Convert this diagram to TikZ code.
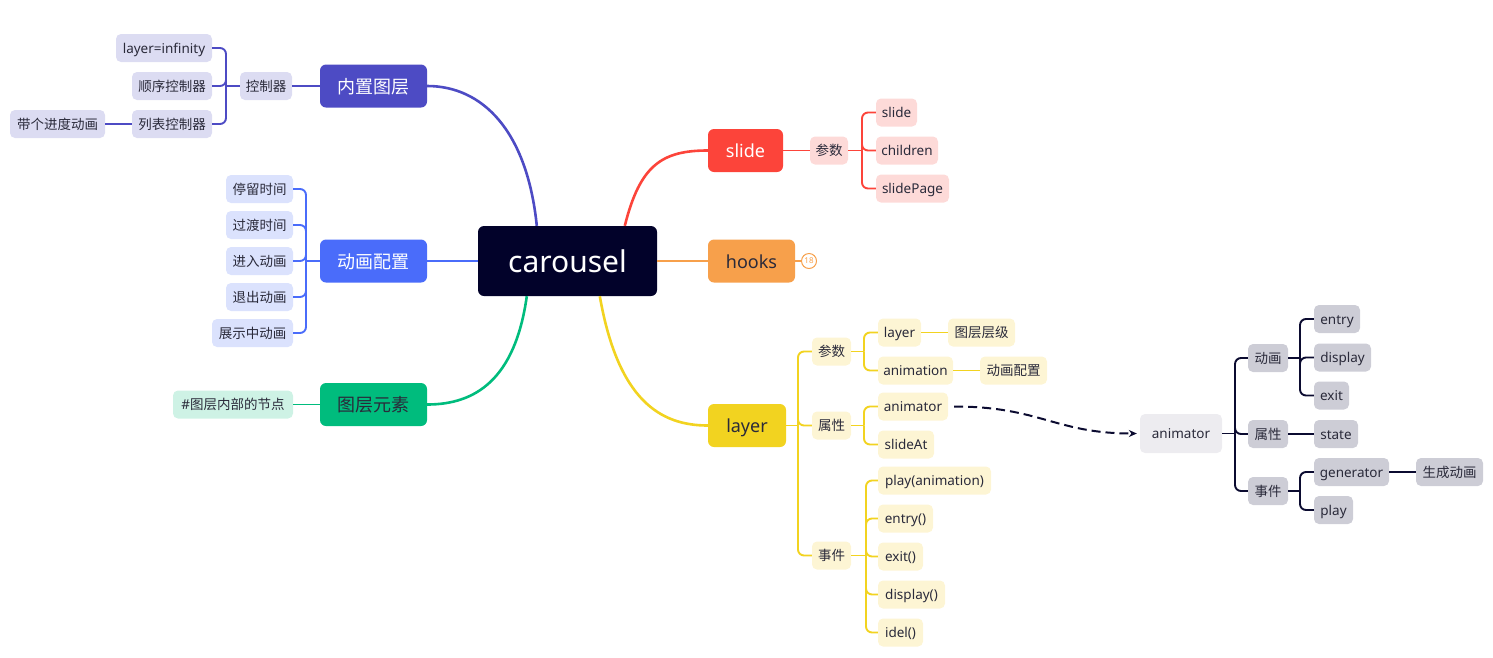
\documentclass[tikz,border=0pt]{standalone}
\usepackage{fontspec}
\setmainfont{Noto Sans}
\newfontfamily\cjkfont{Noto Sans CJK SC}
\newcommand\zh[1]{{\cjkfont #1}}
\usetikzlibrary{arrows.meta,calc}
\definecolor{rootc}{HTML}{02022A}
\definecolor{txt}{HTML}{2A2A3A}
\definecolor{pc}{HTML}{4D4BC4}
\definecolor{pl}{HTML}{DCDCF2}
\definecolor{bc}{HTML}{4A6CFA}
\definecolor{bl}{HTML}{DBE2FD}
\definecolor{gc}{HTML}{00BC7D}
\definecolor{gl}{HTML}{CEF2E5}
\definecolor{rc}{HTML}{FC443A}
\definecolor{rl}{HTML}{FDDAD8}
\definecolor{oc}{HTML}{F7A04B}
\definecolor{yc}{HTML}{F2D320}
\definecolor{yl}{HTML}{FDF5D4}
\definecolor{ac}{HTML}{0B0B30}
\definecolor{al}{HTML}{CDCDD6}
\definecolor{al2}{HTML}{EDECF0}
\newcommand\rbranch[4]{\draw[#1] (#2.east) -- (#3|-#2.east); \draw[#1,rounded corners=6pt] (#3|-#2.east) |- (#4.west);}
\newcommand\lbranch[4]{\draw[#1] (#2.west) -- (#3|-#2.west); \draw[#1,rounded corners=6pt] (#3|-#2.west) |- (#4.east);}
\begin{document}
\begin{tikzpicture}[x=1pt,y=-1pt,
  box/.style={rounded corners=5pt, inner sep=0pt, minimum height=28pt, text height=11.5pt, text depth=1.5pt, font=\fontsize{13.5}{16}\selectfont, text=txt},
  main/.style={rounded corners=6pt, inner sep=0pt, minimum height=43pt, minimum width=107pt, text height=16pt, text depth=2pt, font=\fontsize{18}{22}\selectfont},
  rootbox/.style={rounded corners=6pt, inner sep=0pt, minimum height=70pt, minimum width=179pt, fill=rootc, text=white, font=\fontsize{30}{34}\selectfont},
  curve/.style={line width=2.6pt},
  lnk/.style={line width=1.9pt},
  plink/.style={lnk, draw=pc}, blink/.style={lnk, draw=bc}, glink/.style={lnk, draw=gc},
  rlink/.style={lnk, draw=rc}, olink/.style={lnk, draw=oc}, ylink/.style={lnk, draw=yc}, alink/.style={lnk, draw=ac},
  badge/.style={circle, draw=oc, fill=white, line width=1pt, minimum size=15pt, inner sep=0pt, text=oc, font=\fontsize{8}{9}\selectfont},
  dasharrow/.style={draw=ac, line width=2pt, dash pattern=on 9pt off 5pt, -{Stealth[length=8pt,width=7pt]}}
]
\useasboundingbox (0,0) rectangle (1493,657);

% root and main branches
\node[rootbox] (root) at (567.5,261) {carousel};
\node[main,fill=pc,text=white] (nz) at (373.5,86) {\zh{内置图层}};
\node[main,fill=bc,text=white] (dh) at (373.5,261) {\zh{动画配置}};
\node[main,fill=gc,text=txt] (tc) at (373.5,404.5) {\zh{图层元素}};
\node[main,fill=rc,text=white,minimum width=75pt] (sl) at (745.5,150.5) {slide};
\node[main,fill=oc,text=txt,minimum width=87pt] (hk) at (751.5,261) {hooks};
\node[main,fill=yc,text=txt,minimum width=78pt] (ly) at (747,425.5) {layer};

\draw[curve,draw=pc] ([xshift=59pt]root.north west) .. controls (527,130) and (482,86) .. (nz.east);
\draw[curve,draw=bc] (root.west) -- (dh.east);
\draw[curve,draw=gc] ([xshift=49pt]root.south west) .. controls (515,380) and (475,404.5) .. (tc.east);
\draw[curve,draw=rc] ([xshift=147pt]root.north west) .. controls (640,165) and (662,150.5) .. (sl.west);
\draw[curve,draw=oc] (root.east) -- (hk.west);
\draw[curve,draw=yc] ([xshift=122pt]root.south west) .. controls (618,400) and (660,425.5) .. (ly.west);

% purple branch
\node[box,fill=pl,minimum width=52pt] (kz) at (266,86) {\zh{控制器}};
\node[box,fill=pl,minimum width=96pt] (li) at (164,48) {layer=infinity};
\node[box,fill=pl,minimum width=80pt] (sx) at (172,86) {\zh{顺序控制器}};
\node[box,fill=pl,minimum width=80pt] (lb) at (172,124) {\zh{列表控制器}};
\node[box,fill=pl,minimum width=95pt] (dg) at (57.5,124) {\zh{带个进度动画}};
\coordinate (jA) at (226,0);
\draw[plink] (nz.west) -- (kz.east);
\lbranch{plink}{kz}{jA}{li}
\lbranch{plink}{kz}{jA}{sx}
\lbranch{plink}{kz}{jA}{lb}
\draw[plink] (lb.west) -- (dg.east);

% blue branch
\node[box,fill=bl,minimum width=67pt] (b1) at (259.5,189) {\zh{停留时间}};
\node[box,fill=bl,minimum width=67pt] (b2) at (259.5,225) {\zh{过渡时间}};
\node[box,fill=bl,minimum width=67pt] (b3) at (259.5,261) {\zh{进入动画}};
\node[box,fill=bl,minimum width=67pt] (b4) at (259.5,297) {\zh{退出动画}};
\node[box,fill=bl,minimum width=81pt] (b5) at (252.5,333) {\zh{展示中动画}};
\coordinate (jB) at (306,0);
\lbranch{blink}{dh}{jB}{b1}
\lbranch{blink}{dh}{jB}{b2}
\lbranch{blink}{dh}{jB}{b3}
\lbranch{blink}{dh}{jB}{b4}
\lbranch{blink}{dh}{jB}{b5}

% green branch
\node[box,fill=gl,minimum width=120pt] (g1) at (233,404.5) {\#\zh{图层内部的节点}};
\draw[glink] (tc.west) -- (g1.east);

% slide branch
\node[box,fill=rl,minimum width=38pt] (sp) at (829,150.5) {\zh{参数}};
\node[box,fill=rl,minimum width=41pt] (s1) at (896.5,112.5) {slide};
\node[box,fill=rl,minimum width=62pt] (s2) at (907,150.5) {children};
\node[box,fill=rl,minimum width=73pt] (s3) at (912.5,188.5) {slidePage};
\coordinate (jC) at (862,0);
\draw[rlink] (sl.east) -- (sp.west);
\rbranch{rlink}{sp}{jC}{s1}
\rbranch{rlink}{sp}{jC}{s2}
\rbranch{rlink}{sp}{jC}{s3}

% hooks badge
\node[badge] (b18) at (809,261) {18};
\draw[olink] (hk.east) -- (b18.west);

% layer branch
\node[box,fill=yl,minimum width=39pt] (lp) at (831.5,351.5) {\zh{参数}};
\node[box,fill=yl,minimum width=39pt] (la) at (831.5,425.5) {\zh{属性}};
\node[box,fill=yl,minimum width=39pt] (le) at (831.5,555.5) {\zh{事件}};
\coordinate (jD) at (798,0);
\rbranch{ylink}{ly}{jD}{lp}
\rbranch{ylink}{ly}{jD}{la}
\rbranch{ylink}{ly}{jD}{le}

\node[box,fill=yl,minimum width=43pt] (y1) at (899.5,332.5) {layer};
\node[box,fill=yl,minimum width=75pt] (y2) at (915.5,370.5) {animation};
\node[box,fill=yl,minimum width=67pt] (y1a) at (981.5,332.5) {\zh{图层层级}};
\node[box,fill=yl,minimum width=67pt] (y2a) at (1013.5,370.5) {\zh{动画配置}};
\coordinate (jE) at (864,0);
\rbranch{ylink}{lp}{jE}{y1}
\rbranch{ylink}{lp}{jE}{y2}
\draw[ylink] (y1.east) -- (y1a.west);
\draw[ylink] (y2.east) -- (y2a.west);

\node[box,fill=yl,minimum width=70pt] (y3) at (913,406.5) {animator};
\node[box,fill=yl,minimum width=56pt] (y4) at (906,444.5) {slideAt};
\rbranch{ylink}{la}{jE}{y3}
\rbranch{ylink}{la}{jE}{y4}

\node[box,fill=yl,minimum width=113pt] (e1) at (934.5,480.5) {play(animation)};
\node[box,fill=yl,minimum width=55pt] (e2) at (905.5,518.5) {entry()};
\node[box,fill=yl,minimum width=45pt] (e3) at (900.5,556.5) {exit()};
\node[box,fill=yl,minimum width=67pt] (e4) at (911.5,594.5) {display()};
\node[box,fill=yl,minimum width=45pt] (e5) at (900.5,632.5) {idel()};
\coordinate (jG) at (866,0);
\rbranch{ylink}{le}{jG}{e1}
\rbranch{ylink}{le}{jG}{e2}
\rbranch{ylink}{le}{jG}{e3}
\rbranch{ylink}{le}{jG}{e4}
\rbranch{ylink}{le}{jG}{e5}

% animator tree
\node[box,fill=al2,minimum width=82pt,minimum height=39pt] (an) at (1181,433.5) {animator};
\node[box,fill=al,minimum width=40pt] (ad) at (1268,358) {\zh{动画}};
\node[box,fill=al,minimum width=40pt] (aa) at (1268,434) {\zh{属性}};
\node[box,fill=al,minimum width=40pt] (ae) at (1268,491) {\zh{事件}};
\coordinate (jH) at (1235,0);
\rbranch{alink}{an}{jH}{ad}
\rbranch{alink}{an}{jH}{aa}
\rbranch{alink}{an}{jH}{ae}

\node[box,fill=al,minimum width=46pt] (d1) at (1337,319) {entry};
\node[box,fill=al,minimum width=57pt] (d2) at (1342.5,357.5) {display};
\node[box,fill=al,minimum width=35pt] (d3) at (1331.5,395.5) {exit};
\node[box,fill=al,minimum width=44pt] (st) at (1336,434) {state};
\node[box,fill=al,minimum width=75pt] (gn) at (1351.5,472) {generator};
\node[box,fill=al,minimum width=39pt] (pl) at (1333.5,510) {play};
\node[box,fill=al,minimum width=67pt] (sc) at (1449.5,472) {\zh{生成动画}};
\coordinate (jI) at (1300,0);
\rbranch{alink}{ad}{jI}{d1}
\rbranch{alink}{ad}{jI}{d2}
\rbranch{alink}{ad}{jI}{d3}
\draw[alink] (aa.east) -- (st.west);
\rbranch{alink}{ae}{jI}{gn}
\rbranch{alink}{ae}{jI}{pl}
\draw[alink] (gn.east) -- (sc.west);

% dashed relation
\draw[dasharrow, shorten >=3pt] ([xshift=6pt]y3.east) .. controls (1040,406.5) and (1055,433.5) .. (an.west);
\end{tikzpicture}
\end{document}
